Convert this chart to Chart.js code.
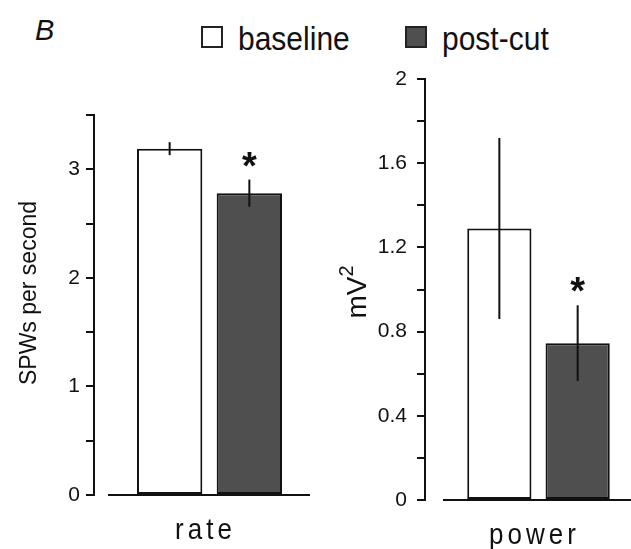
<!DOCTYPE html>
<html lang="en">
<head>
<meta charset="UTF-8">
<title>SPW rate and power, baseline vs post-cut</title>
<script src="https://cdn.jsdelivr.net/npm/chart.js"></script>
<style>
  body {
    margin: 0;
    width: 631px;
    height: 549px;
    overflow: hidden;
    position: relative;
    background: #fff;
    color: #111;
    font-family: 'Liberation Sans', Arial, sans-serif;
  }
  canvas { position: absolute; top: 0; }
  #rateChart { left: 0; }
  #powerChart { left: 330px; }
  #panelLetter {
    position: absolute;
    left: 35px;
    top: 16px;
    font-size: 29px;
    line-height: 29px;
    font-style: italic;
  }
  .legend-item {
    position: absolute;
    top: 25px;
    font-size: 30px;
    line-height: 30px;
    white-space: nowrap;
  }
  #leg0 { left: 201px; }
  #leg1 { left: 405px; }
  .swatch {
    position: absolute;
    left: 0;
    top: 1px;
    width: 22px;
    height: 22px;
    box-sizing: border-box;
    border: 2px solid #222;
  }
  .legend-item span.txt {
    position: absolute;
    left: 37px;
    top: 0;
    transform: scaleY(1.08);
    transform-origin: 0 25px;
  }
</style>
</head>
<body>
  <div id="panelLetter">B</div>
  <div id="legend"></div>
  <canvas id="rateChart" width="330" height="549"></canvas>
  <canvas id="powerChart" width="325" height="549"></canvas>

<script>
  // values
  const seriesNames = ["baseline", "post-cut"];
  const seriesColors = ["#ffffff", "#4f4f4f"];

  const rateLabel = ["rate"];
  const rateMeans = [3.19, 2.78];
  const rateErrors = [0.06, 0.125];
  const rateSignificant = [false, true];

  const powerLabel = ["power"];
  const powerMeans = [1.29, 0.745];
  const powerErrors = [0.43, 0.18];
  const powerSignificant = [false, true];

  const rateTicks = [0, 1, 2, 3];
  const powerTicks = [0, 0.4, 0.8, 1.2, 1.6, 2];

  Chart.defaults.font.family = "'Liberation Sans', Arial, sans-serif";
  Chart.defaults.color = "#111";

  // legend (shared by both panels)
  const legend = document.getElementById("legend");
  seriesNames.forEach((name, i) => {
    const item = document.createElement("div");
    item.className = "legend-item";
    item.id = "leg" + i;
    item.innerHTML = '<span class="swatch" style="background:' + seriesColors[i] + '"></span><span class="txt">' + name + '</span>';
    legend.appendChild(item);
  });

  // error bars, asterisks, detached x axis line, category label, y title
  const panelDecor = {
    id: "panelDecor",
    afterDatasetsDraw(chart, args, opts) {
      const ctx = chart.ctx;
      const y = chart.scales.y;
      ctx.save();
      ctx.strokeStyle = "#111";
      ctx.fillStyle = "#111";
      ctx.lineWidth = 2;
      chart.data.datasets.forEach((ds, i) => {
        chart.getDatasetMeta(i).data.forEach((bar, j) => {
          const m = ds.data[j];
          const e = ds.errors[j];
          const top = y.getPixelForValue(m + e);
          ctx.beginPath();
          ctx.moveTo(bar.x, top);
          ctx.lineTo(bar.x, y.getPixelForValue(m - e));
          ctx.stroke();
          if (ds.significant[j]) {
            ctx.font = "bold 38px 'Liberation Sans', Arial, sans-serif";
            ctx.textAlign = "center";
            ctx.textBaseline = "alphabetic";
            ctx.fillText("*", bar.x, top - 1);
          }
        });
      });
      ctx.restore();
    },
    afterDraw(chart, args, opts) {
      const ctx = chart.ctx;
      const area = chart.chartArea;
      const x = chart.scales.x;
      ctx.save();
      // x axis line, not touching the y axis
      ctx.strokeStyle = "#111";
      ctx.lineWidth = 2;
      ctx.beginPath();
      ctx.moveTo(area.left + opts.lineStart, area.bottom);
      ctx.lineTo(area.right - opts.lineEnd, area.bottom);
      ctx.stroke();

      // category label, letter spaced
      ctx.save();
      ctx.fillStyle = "#111";
      ctx.font = "26px 'Liberation Sans', Arial, sans-serif";
      ctx.letterSpacing = "4px";
      ctx.textAlign = "center";
      ctx.textBaseline = "alphabetic";
      ctx.translate(x.getPixelForValue(0) - 4, area.bottom + 44);
      ctx.scale(1, 1.1);
      ctx.fillText(chart.data.labels[0], 0, 0);
      ctx.restore();

      // rotated y title, with optional superscript
      ctx.fillStyle = "#111";
      ctx.translate(opts.titleX, opts.titleY);
      ctx.rotate(-Math.PI / 2);
      ctx.textAlign = "left";
      ctx.textBaseline = "alphabetic";
      const mainFont = opts.titleSize + "px 'Liberation Sans', Arial, sans-serif";
      const supFont = opts.supSize + "px 'Liberation Sans', Arial, sans-serif";
      ctx.font = mainFont;
      const w1 = ctx.measureText(opts.title).width;
      let w2 = 0;
      if (opts.sup) {
        ctx.font = supFont;
        w2 = ctx.measureText(opts.sup).width;
      }
      const start = -(w1 + w2) / 2;
      ctx.font = mainFont;
      ctx.fillText(opts.title, start, 0);
      if (opts.sup) {
        ctx.font = supFont;
        ctx.fillText(opts.sup, start + w1, -opts.supRaise);
      }
      ctx.restore();
    }
  };

  function makeDatasets(means, errors, significant) {
    return seriesNames.map((name, i) => ({
      label: name,
      data: [means[i]],
      errors: [errors[i]],
      significant: [significant[i]],
      backgroundColor: seriesColors[i],
      borderColor: "#111",
      borderWidth: 2,
      borderSkipped: false,
      categoryPercentage: 0.69,
      barPercentage: 0.82
    }));
  }

  function yAxis(max, step, labelled, axisWidth, labelPad) {
    return {
      min: 0,
      max: max,
      afterFit: s => { s.width = axisWidth; },
      ticks: {
        stepSize: step,
        padding: labelPad,
        font: { size: 21 },
        color: "#111",
        callback: v => labelled.some(t => Math.abs(t - v) < 1e-6) ? String(Number(v.toFixed(1))) : ""
      },
      grid: {
        drawOnChartArea: false,
        drawTicks: true,
        tickLength: 8,
        color: "#111",
        lineWidth: 2
      },
      border: { display: true, color: "#111", width: 2 }
    };
  }

  new Chart(document.getElementById("rateChart"), {
    type: "bar",
    data: { labels: rateLabel, datasets: makeDatasets(rateMeans, rateErrors, rateSignificant) },
    options: {
      responsive: false,
      animation: false,
      layout: { padding: { left: 0, right: 5, top: 115, bottom: 54 } },
      plugins: {
        legend: { display: false },
        tooltip: { enabled: false },
        panelDecor: {
          lineStart: 14, lineEnd: 15,
          title: "SPWs per second", titleSize: 23, titleX: 36, titleY: 293
        }
      },
      scales: {
        x: { display: false },
        y: yAxis(3.5, 0.5, rateTicks, 94, 6)
      }
    },
    plugins: [panelDecor]
  });

  new Chart(document.getElementById("powerChart"), {
    type: "bar",
    data: { labels: powerLabel, datasets: makeDatasets(powerMeans, powerErrors, powerSignificant) },
    options: {
      responsive: false,
      animation: false,
      layout: { padding: { left: 0, right: 3, top: 79, bottom: 49 } },
      plugins: {
        legend: { display: false },
        tooltip: { enabled: false },
        panelDecor: {
          lineStart: 18, lineEnd: 20,
          title: "mV", sup: "2", titleSize: 28, supSize: 20, supRaise: 13,
          titleX: 36, titleY: 292
        }
      },
      scales: {
        x: { display: false },
        y: yAxis(2, 0.2, powerTicks, 95, 10)
      }
    },
    plugins: [panelDecor]
  });
</script>
</body>
</html>
